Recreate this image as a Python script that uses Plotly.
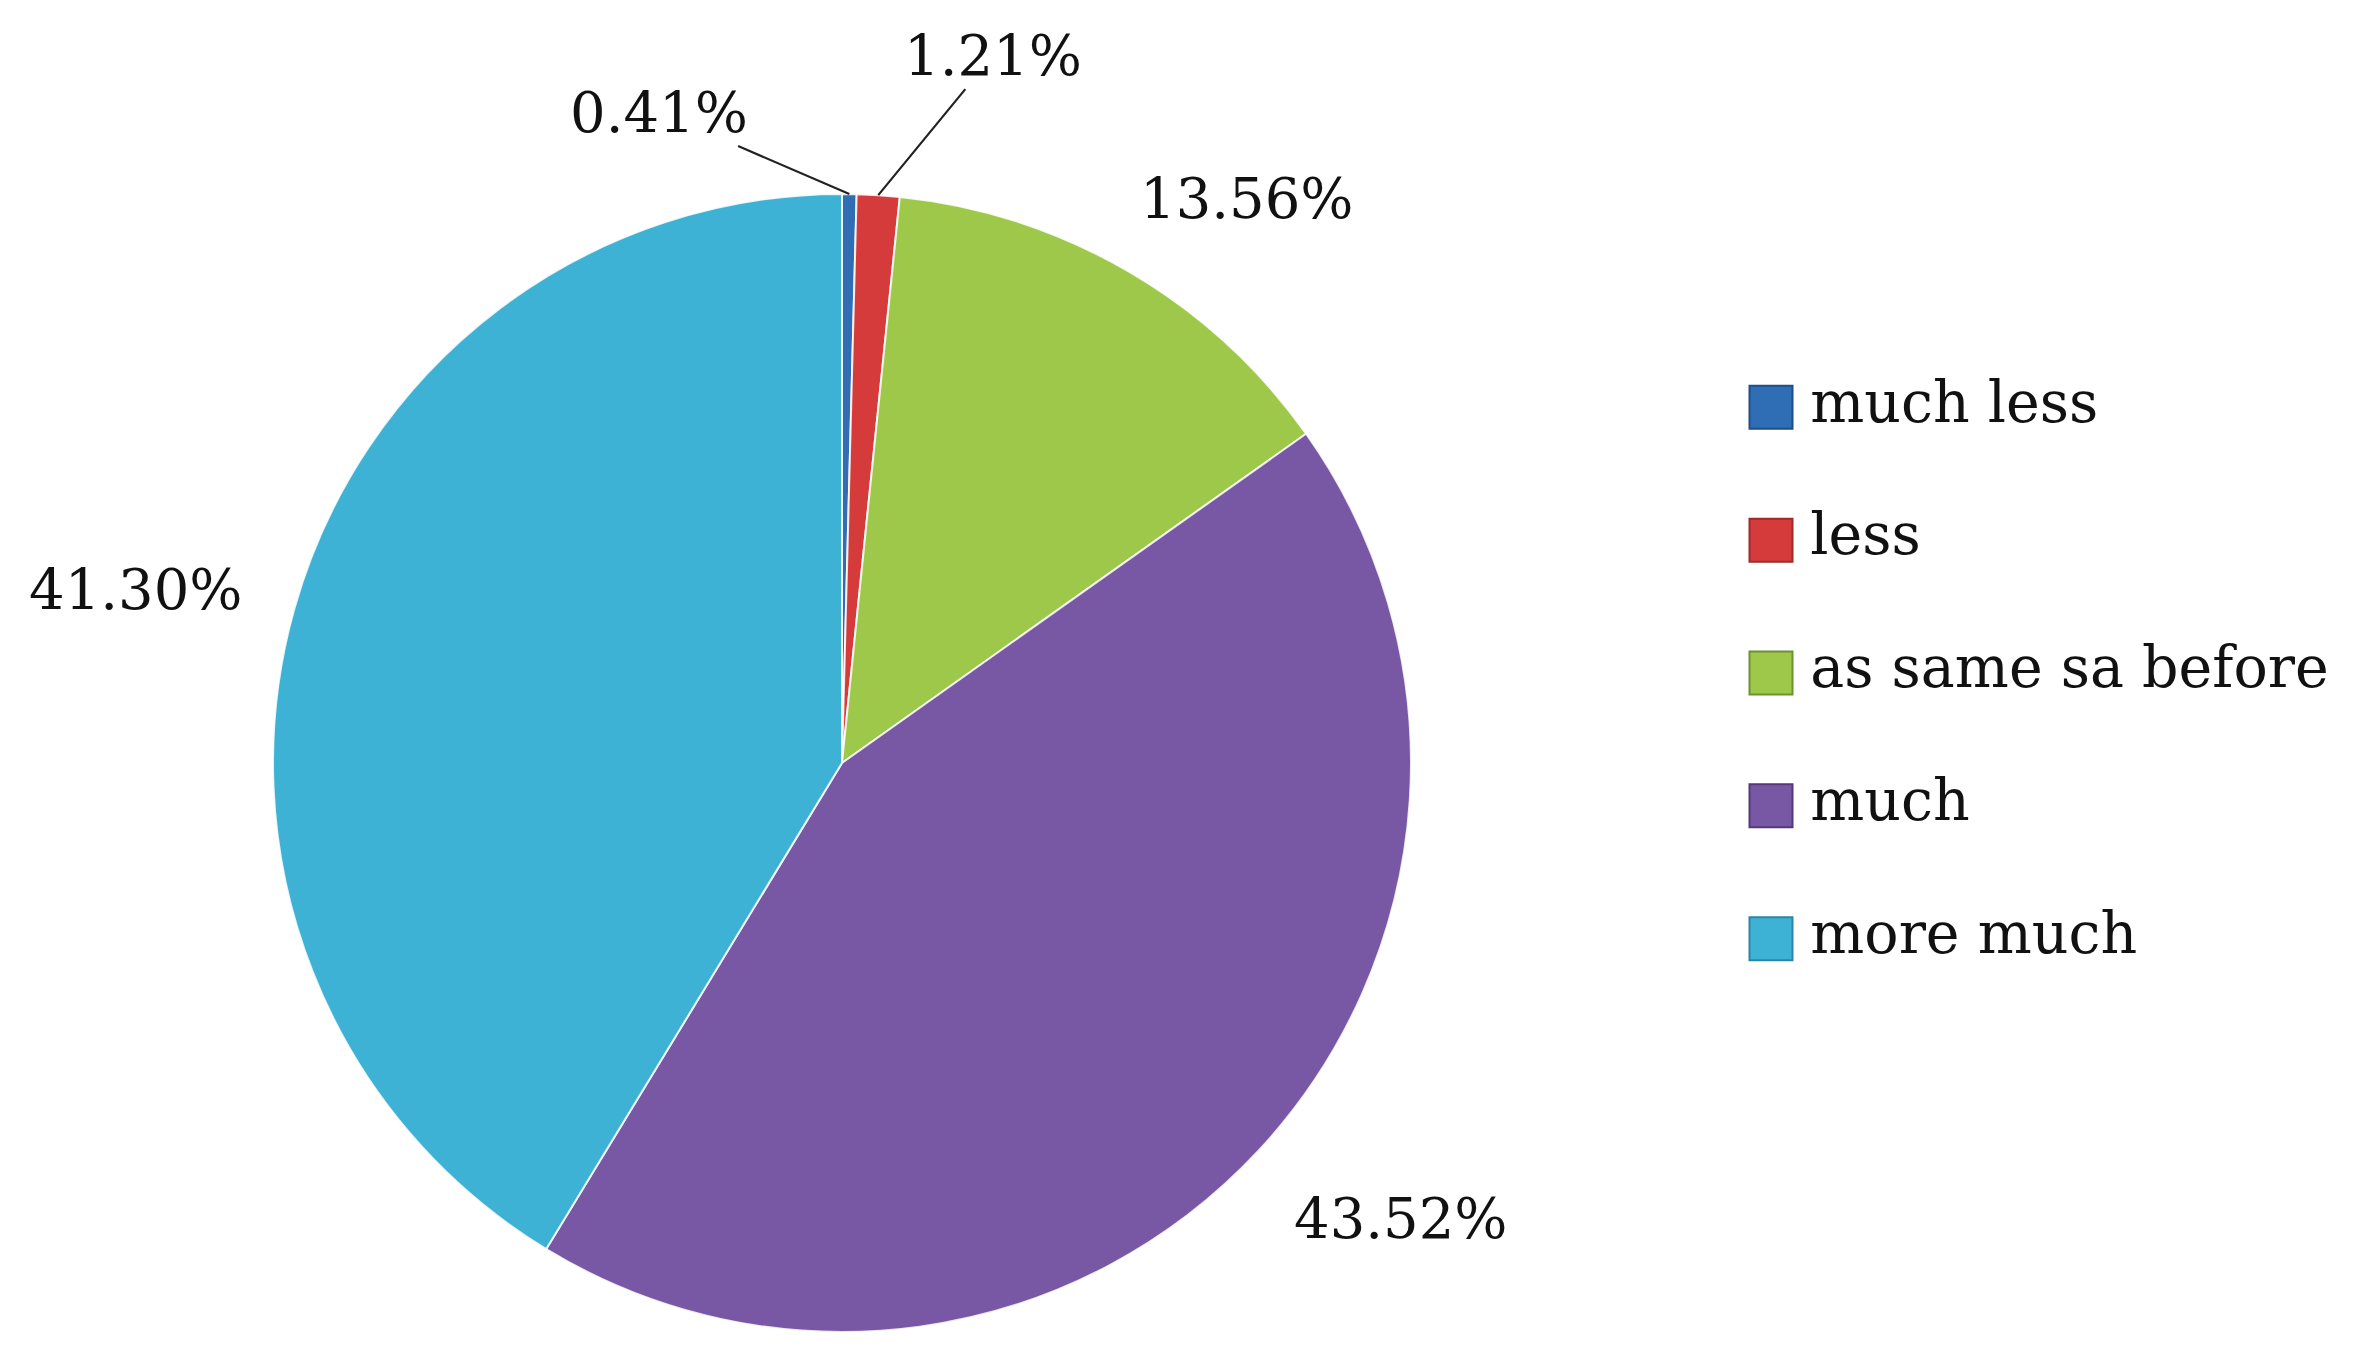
import math
import plotly.graph_objs as go

# data
categories = ["much less", "less", "as same sa before", "much", "more much"]
shares = [0.41, 1.21, 13.56, 43.52, 41.30]
label_texts = ["0.41%", "1.21%", "13.56%", "43.52%", "41.30%"]
colors = ["#2F6DB5", "#D63B3B", "#9DC84A", "#7858A5", "#3EB2D4"]
edge_colors = ["#1F4F8A", "#9E2A2A", "#6F9230", "#54397A", "#2A86A3"]

W, H = 2364, 1368
FONT = "DejaVu Serif"

# pie geometry (pixels)
cx, cy, r = 834, 755, 569

# label offsets from the slice's outer midpoint (pixels) and whether a leader line is drawn
label_offsets = [(-190, -82), (115, -140), (118, -73), (143, 68), (-158, -20)]
leader = [True, True, False, False, False]

fig = go.Figure()

# pie
fig.add_trace(go.Pie(labels=categories, values=shares, sort=False,
                     direction="clockwise", rotation=0,
                     marker=dict(colors=colors, line=dict(color="rgba(255,255,255,0.85)", width=2)),
                     textinfo="none", hoverinfo="label+percent", showlegend=False,
                     domain=dict(x=[(cx - r) / W, (cx + r) / W],
                                 y=[1 - (cy + r) / H, 1 - (cy - r) / H])))

# legend drawn as a marker column
fig.add_trace(go.Scatter(x=[0] * len(categories), y=categories, mode="markers+text",
                         text=["\u2009" + c for c in categories], textposition="middle right",
                         textfont=dict(family=FONT, size=57, color="#111111"),
                         marker=dict(symbol="square", size=43, color=colors,
                                     line=dict(color=edge_colors, width=2)),
                         cliponaxis=False, showlegend=False, hoverinfo="skip"))

# percentage labels, placed from the slice mid-angles
total = sum(shares)
cum = 0.0
annotations = []
for v, txt, (ax, ay), ld in zip(shares, label_texts, label_offsets, leader):
    mid = (cum + v / 2) / total * 2 * math.pi
    cum += v
    px = cx + r * math.sin(mid)
    py = cy - r * math.cos(mid)
    annotations.append(dict(x=px / W, y=1 - py / H, xref="paper", yref="paper",
                            text=txt, showarrow=True, ax=ax, ay=ay,
                            arrowhead=0, arrowwidth=2.2 if ld else 0.1,
                            arrowcolor="#222222" if ld else "rgba(0,0,0,0)",
                            font=dict(family=FONT, size=56, color="#111111")))

fig.update_layout(
    width=W, height=H,
    margin=dict(l=0, r=0, t=0, b=0),
    paper_bgcolor="white", plot_bgcolor="rgba(0,0,0,0)",
    annotations=annotations,
    xaxis=dict(domain=[1763 / W, 1.0], range=[0, 1], visible=False, fixedrange=True),
    yaxis=dict(domain=[1 - 990 / H, 1 - 340 / H], type="category",
               categoryorder="array", categoryarray=categories,
               autorange="reversed", visible=False, fixedrange=True),
)

fig.write_html("out.html")
